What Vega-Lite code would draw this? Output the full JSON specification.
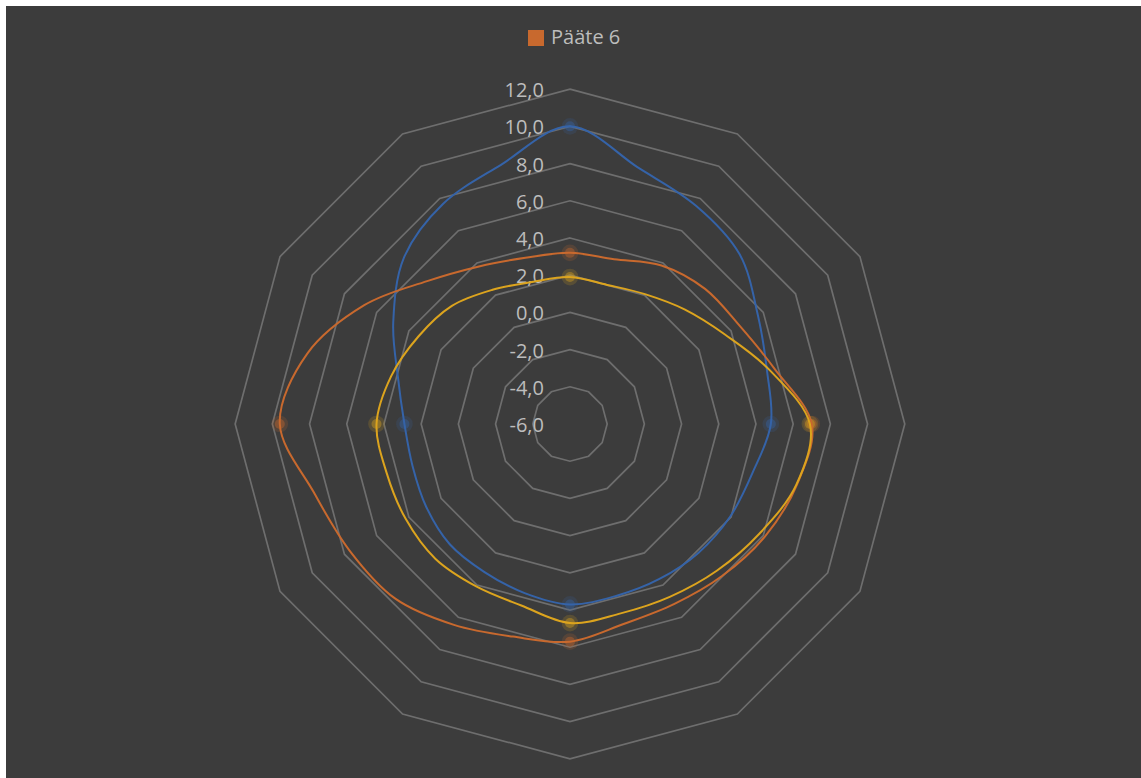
{
  "$schema": "https://vega.github.io/schema/vega-lite/v6.json",
  "width": 1135,
  "height": 772,
  "autosize": {"type": "none"},
  "padding": {"left": 6, "top": 6, "right": 0, "bottom": 0},
  "background": "#ffffff",
  "config": {
    "view": {"fill": "#3c3c3c", "stroke": null},
    "font": "Open Sans",
    "locale": {"number": {"decimal": ",", "thousands": " ", "grouping": [3], "currency": ["", " €"], "minus": "-"}}
  },
  "resolve": {"legend": {"color": "independent"}},
  "datasets": {
    "grid": [
      {"level": -4, "spoke": [0, 30, 60, 90, 120, 150, 180, 210, 240, 270, 300, 330]},
      {"level": -2, "spoke": [0, 30, 60, 90, 120, 150, 180, 210, 240, 270, 300, 330]},
      {"level": 0, "spoke": [0, 30, 60, 90, 120, 150, 180, 210, 240, 270, 300, 330]},
      {"level": 2, "spoke": [0, 30, 60, 90, 120, 150, 180, 210, 240, 270, 300, 330]},
      {"level": 4, "spoke": [0, 30, 60, 90, 120, 150, 180, 210, 240, 270, 300, 330]},
      {"level": 6, "spoke": [0, 30, 60, 90, 120, 150, 180, 210, 240, 270, 300, 330]},
      {"level": 8, "spoke": [0, 30, 60, 90, 120, 150, 180, 210, 240, 270, 300, 330]},
      {"level": 10, "spoke": [0, 30, 60, 90, 120, 150, 180, 210, 240, 270, 300, 330]},
      {"level": 12, "spoke": [0, 30, 60, 90, 120, 150, 180, 210, 240, 270, 300, 330]}
    ],
    "ticks": [
      {"level": -6}, {"level": -4}, {"level": -2}, {"level": 0}, {"level": 2},
      {"level": 4}, {"level": 6}, {"level": 8}, {"level": 10}, {"level": 12}
    ],
    "series": [
      {"series": "Pääte 5", "angle": 0, "value": 10.0},
      {"series": "Pääte 5", "angle": 15, "value": 8.25},
      {"series": "Pääte 5", "angle": 30, "value": 7.55},
      {"series": "Pääte 5", "angle": 45, "value": 6.9},
      {"series": "Pääte 5", "angle": 60, "value": 5.67},
      {"series": "Pääte 5", "angle": 75, "value": 4.97},
      {"series": "Pääte 5", "angle": 90, "value": 4.8},
      {"series": "Pääte 5", "angle": 105, "value": 4.16},
      {"series": "Pääte 5", "angle": 120, "value": 3.95},
      {"series": "Pääte 5", "angle": 135, "value": 3.78},
      {"series": "Pääte 5", "angle": 150, "value": 3.62},
      {"series": "Pääte 5", "angle": 165, "value": 3.57},
      {"series": "Pääte 5", "angle": 180, "value": 3.7},
      {"series": "Pääte 5", "angle": 195, "value": 3.41},
      {"series": "Pääte 5", "angle": 210, "value": 3.19},
      {"series": "Pääte 5", "angle": 225, "value": 3.14},
      {"series": "Pääte 5", "angle": 240, "value": 2.92},
      {"series": "Pääte 5", "angle": 255, "value": 2.76},
      {"series": "Pääte 5", "angle": 270, "value": 2.9},
      {"series": "Pääte 5", "angle": 285, "value": 3.57},
      {"series": "Pääte 5", "angle": 300, "value": 4.97},
      {"series": "Pääte 5", "angle": 315, "value": 6.63},
      {"series": "Pääte 5", "angle": 330, "value": 7.66},
      {"series": "Pääte 5", "angle": 345, "value": 8.41},
      {"series": "Pääte 6", "angle": 0, "value": 3.2},
      {"series": "Pääte 6", "angle": 15, "value": 3.17},
      {"series": "Pääte 6", "angle": 30, "value": 3.84},
      {"series": "Pääte 6", "angle": 45, "value": 4.27},
      {"series": "Pääte 6", "angle": 60, "value": 4.54},
      {"series": "Pääte 6", "angle": 75, "value": 5.4},
      {"series": "Pääte 6", "angle": 90, "value": 7.0},
      {"series": "Pääte 6", "angle": 105, "value": 6.63},
      {"series": "Pääte 6", "angle": 120, "value": 6.1},
      {"series": "Pääte 6", "angle": 135, "value": 5.56},
      {"series": "Pääte 6", "angle": 150, "value": 5.18},
      {"series": "Pääte 6", "angle": 165, "value": 5.13},
      {"series": "Pääte 6", "angle": 180, "value": 5.7},
      {"series": "Pääte 6", "angle": 195, "value": 5.83},
      {"series": "Pääte 6", "angle": 210, "value": 6.47},
      {"series": "Pääte 6", "angle": 225, "value": 7.28},
      {"series": "Pääte 6", "angle": 240, "value": 7.66},
      {"series": "Pääte 6", "angle": 255, "value": 8.25},
      {"series": "Pääte 6", "angle": 270, "value": 9.6},
      {"series": "Pääte 6", "angle": 285, "value": 8.62},
      {"series": "Pääte 6", "angle": 300, "value": 6.77},
      {"series": "Pääte 6", "angle": 315, "value": 4.86},
      {"series": "Pääte 6", "angle": 330, "value": 3.78},
      {"series": "Pääte 6", "angle": 345, "value": 3.25},
      {"series": "Pääte 7", "angle": 0, "value": 1.9},
      {"series": "Pääte 7", "angle": 15, "value": 1.74},
      {"series": "Pääte 7", "angle": 30, "value": 2.06},
      {"series": "Pääte 7", "angle": 45, "value": 2.71},
      {"series": "Pääte 7", "angle": 60, "value": 3.62},
      {"series": "Pääte 7", "angle": 75, "value": 5.13},
      {"series": "Pääte 7", "angle": 90, "value": 6.9},
      {"series": "Pääte 7", "angle": 105, "value": 6.6},
      {"series": "Pääte 7", "angle": 120, "value": 5.77},
      {"series": "Pääte 7", "angle": 135, "value": 5.16},
      {"series": "Pääte 7", "angle": 150, "value": 4.73},
      {"series": "Pääte 7", "angle": 165, "value": 4.54},
      {"series": "Pääte 7", "angle": 180, "value": 4.7},
      {"series": "Pääte 7", "angle": 195, "value": 4.1},
      {"series": "Pääte 7", "angle": 210, "value": 4.08},
      {"series": "Pääte 7", "angle": 225, "value": 4.24},
      {"series": "Pääte 7", "angle": 240, "value": 4.2},
      {"series": "Pääte 7", "angle": 255, "value": 4.2},
      {"series": "Pääte 7", "angle": 270, "value": 4.4},
      {"series": "Pääte 7", "angle": 285, "value": 3.95},
      {"series": "Pääte 7", "angle": 300, "value": 3.41},
      {"series": "Pääte 7", "angle": 315, "value": 2.98},
      {"series": "Pääte 7", "angle": 330, "value": 2.33},
      {"series": "Pääte 7", "angle": 345, "value": 1.9}
    ]
  },
  "layer": [
    {
      "data": {"name": "grid"},
      "transform": [
        {"flatten": ["spoke"]},
        {"calculate": "(datum.level + 6) * sin(datum.spoke * PI / 180)", "as": "px"},
        {"calculate": "(datum.level + 6) * cos(datum.spoke * PI / 180)", "as": "py"}
      ],
      "mark": {"type": "line", "interpolate": "linear-closed", "stroke": "#6e6e6e", "strokeWidth": 1.7},
      "encoding": {
        "x": {"field": "px", "type": "quantitative", "scale": {"domain": [-30.32, 30.7], "nice": false, "zero": false}, "axis": null},
        "y": {"field": "py", "type": "quantitative", "scale": {"domain": [-19.03, 22.47], "nice": false, "zero": false}, "axis": null},
        "detail": {"field": "level", "type": "nominal"},
        "order": {"field": "spoke", "type": "quantitative"}
      }
    },
    {
      "data": {"name": "ticks"},
      "transform": [
        {"calculate": "0", "as": "px"},
        {"calculate": "datum.level + 6", "as": "py"}
      ],
      "mark": {"type": "text", "align": "right", "baseline": "middle", "dx": -26, "dy": 2, "fontSize": 20, "color": "#bdbdbd"},
      "encoding": {
        "x": {"field": "px", "type": "quantitative", "scale": {"domain": [-30.32, 30.7], "nice": false, "zero": false}, "axis": null},
        "y": {"field": "py", "type": "quantitative", "scale": {"domain": [-19.03, 22.47], "nice": false, "zero": false}, "axis": null},
        "text": {"field": "level", "type": "quantitative", "format": ".1f"}
      }
    },
    {
      "data": {"name": "series"},
      "transform": [
        {"filter": "datum.angle % 90 === 0"},
        {"calculate": "(datum.value + 6) * sin(datum.angle * PI / 180)", "as": "px"},
        {"calculate": "(datum.value + 6) * cos(datum.angle * PI / 180)", "as": "py"}
      ],
      "mark": {"type": "point", "filled": true, "size": 280, "opacity": 0.18, "shape": "circle"},
      "encoding": {
        "x": {"field": "px", "type": "quantitative", "scale": {"domain": [-30.32, 30.7], "nice": false, "zero": false}, "axis": null},
        "y": {"field": "py", "type": "quantitative", "scale": {"domain": [-19.03, 22.47], "nice": false, "zero": false}, "axis": null},
        "color": {
          "field": "series", "type": "nominal",
          "scale": {"domain": ["Pääte 5", "Pääte 6", "Pääte 7"], "range": ["#3563a8", "#c8692e", "#dca41e"]},
          "legend": {
            "values": ["Pääte 6"], "title": null, "orient": "none", "legendX": 520, "legendY": 22,
            "symbolType": "square", "symbolSize": 256, "symbolOpacity": 1, "symbolStrokeWidth": 0,
            "labelFontSize": 20, "labelColor": "#bdbdbd", "labelOffset": 5, "labelFont": "Open Sans"
          }
        }
      }
    },
    {
      "data": {"name": "series"},
      "transform": [
        {"filter": "datum.angle % 90 === 0"},
        {"calculate": "(datum.value + 6) * sin(datum.angle * PI / 180)", "as": "px"},
        {"calculate": "(datum.value + 6) * cos(datum.angle * PI / 180)", "as": "py"}
      ],
      "mark": {"type": "point", "filled": true, "size": 100, "opacity": 0.4, "shape": "circle"},
      "encoding": {
        "x": {"field": "px", "type": "quantitative", "scale": {"domain": [-30.32, 30.7], "nice": false, "zero": false}, "axis": null},
        "y": {"field": "py", "type": "quantitative", "scale": {"domain": [-19.03, 22.47], "nice": false, "zero": false}, "axis": null},
        "color": {"field": "series", "type": "nominal", "scale": {"domain": ["Pääte 5", "Pääte 6", "Pääte 7"], "range": ["#3563a8", "#c8692e", "#dca41e"]}, "legend": null}
      }
    },
    {
      "data": {"name": "series"},
      "transform": [
        {"calculate": "(datum.value + 6) * sin(datum.angle * PI / 180)", "as": "px"},
        {"calculate": "(datum.value + 6) * cos(datum.angle * PI / 180)", "as": "py"}
      ],
      "mark": {"type": "line", "interpolate": "cardinal-closed", "strokeWidth": 2},
      "encoding": {
        "x": {"field": "px", "type": "quantitative", "scale": {"domain": [-30.32, 30.7], "nice": false, "zero": false}, "axis": null},
        "y": {"field": "py", "type": "quantitative", "scale": {"domain": [-19.03, 22.47], "nice": false, "zero": false}, "axis": null},
        "color": {"field": "series", "type": "nominal", "scale": {"domain": ["Pääte 5", "Pääte 6", "Pääte 7"], "range": ["#3563a8", "#c8692e", "#dca41e"]}, "legend": null},
        "order": {"field": "angle", "type": "quantitative"}
      }
    }
  ]
}
